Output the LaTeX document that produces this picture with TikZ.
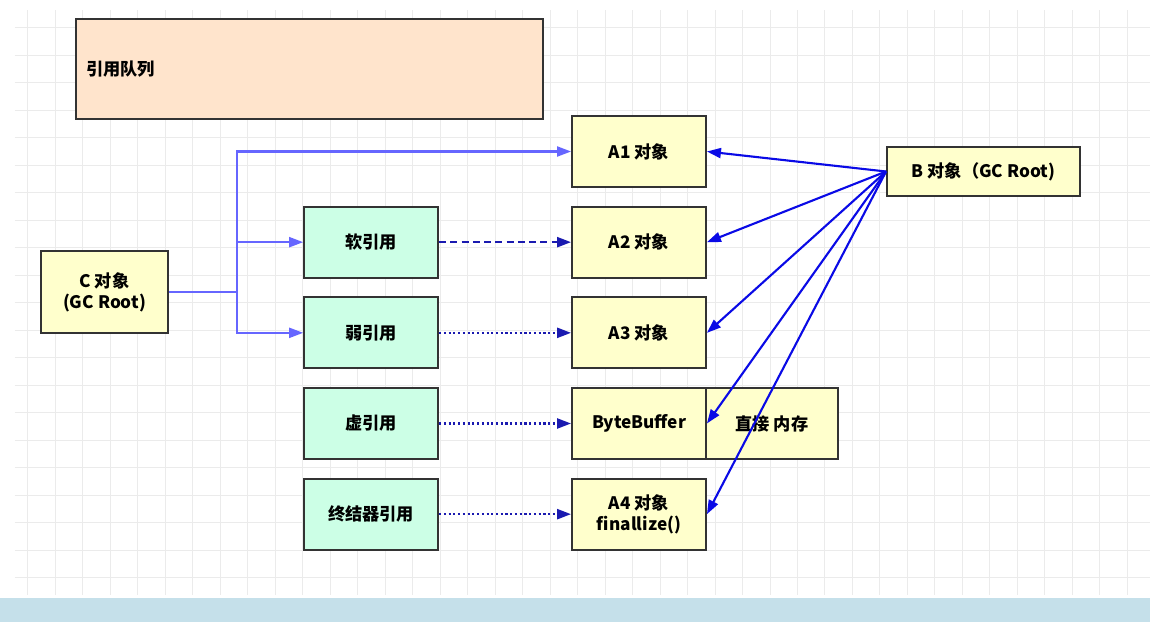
\documentclass[tikz,border=0pt]{standalone}
\usepackage{fontspec}
\setmainfont{Noto Sans CJK SC}
\usetikzlibrary{arrows.meta}
\usetikzlibrary{positioning}

\definecolor{objyellow}{HTML}{FFFFCC}
\definecolor{refgreen}{HTML}{CCFFE6}
\definecolor{queuepeach}{HTML}{FFE4CC}
\definecolor{cblue}{HTML}{6666FF}
\definecolor{refblue}{HTML}{1A1AB0}
\definecolor{bblue}{HTML}{0A0AE6}
\definecolor{bandblue}{HTML}{C5E0EA}

\tikzset{
  obj/.style={draw=black!80, line width=1.1pt, fill=objyellow, minimum width=2.68cm,
    minimum height=1.42cm, align=center, inner sep=1pt,
    font=\bfseries\fontsize{9.8}{12}\selectfont},
  refbox/.style={obj, fill=refgreen},
  tip/.style={-{Triangle[length=0.28cm, width=0.2cm]}},
  carrow/.style={draw=cblue, line width=1.2pt},
  barrow/.style={draw=bblue, line width=1.2pt, tip},
  weakline/.style={draw=refblue, line width=1.3pt, tip}
}

\begin{document}
\begin{tikzpicture}[x=0.02cm, y=-0.02cm]
\useasboundingbox (0,0) rectangle (1150,622);
\fill[white] (0,0) rectangle (1150,622);
\draw[black!8, step=0.55cm] (0.3cm,-11.9cm) grid (23cm,-0.2cm);
\fill[bandblue] (0,598) rectangle (1150,622);

\node[obj, fill=queuepeach, minimum width=9.34cm, minimum height=2cm, text width=8.94cm,
  align=left, inner xsep=0.2cm] (queue) at (309.5,69) {引用队列};

\node[obj] (a1) at (639,151.5) {A1 对象};
\node[obj, below=0.355cm of a1] (a2) {A2 对象};
\node[obj, below=0.355cm of a2] (a3) {A3 对象};
\node[obj, below=0.355cm of a3] (bb) {ByteBuffer};
\node[obj, below=0.355cm of bb] (a4) {A4 对象\\finallize()};
\node[obj, anchor=west, xshift=-1.1pt, minimum width=2.64cm] (mem) at (bb.east) {直接 内存};

\node[refbox, left=2.64cm of a2] (soft) {软引用};
\node[refbox, left=2.64cm of a3] (weak) {弱引用};
\node[refbox, left=2.64cm of bb] (phantom) {虚引用};
\node[refbox, left=2.64cm of a4] (final) {终结器引用};

\node[obj, minimum width=2.54cm, minimum height=1.64cm] (c) at (104.5,292) {C 对象\\(GC Root)};
\node[obj, minimum width=3.86cm, minimum height=0.98cm] (b) at (983.5,171.5) {B 对象（GC Root)};

% C -> strong / soft / weak
\coordinate[right=1.36cm of c] (fork);
\draw[carrow] (c) -- (fork);
\draw[carrow, tip] (fork) |- (a1);
\draw[carrow, tip] (fork) |- (soft);
\draw[carrow, tip] (fork) |- (weak);

% references -> objects
\draw[weakline, dash pattern=on 4pt off 2.4pt] (soft) -- (a2);
\draw[weakline, dash pattern=on 1.2pt off 1.5pt] (weak) -- (a3);
\draw[weakline, dash pattern=on 1.2pt off 1.5pt] (phantom) -- (bb);
\draw[weakline, dash pattern=on 1.2pt off 1.5pt] (final) -- (a4);

% B -> objects
\draw[barrow] (b.west) -- (a1.east);
\draw[barrow] (b.west) -- (a2.east);
\draw[barrow] (b.west) -- (a3.east);
\draw[barrow] (b.west) -- (bb.east);
\draw[barrow] (b.west) -- (a4.east);

\end{tikzpicture}
\end{document}
